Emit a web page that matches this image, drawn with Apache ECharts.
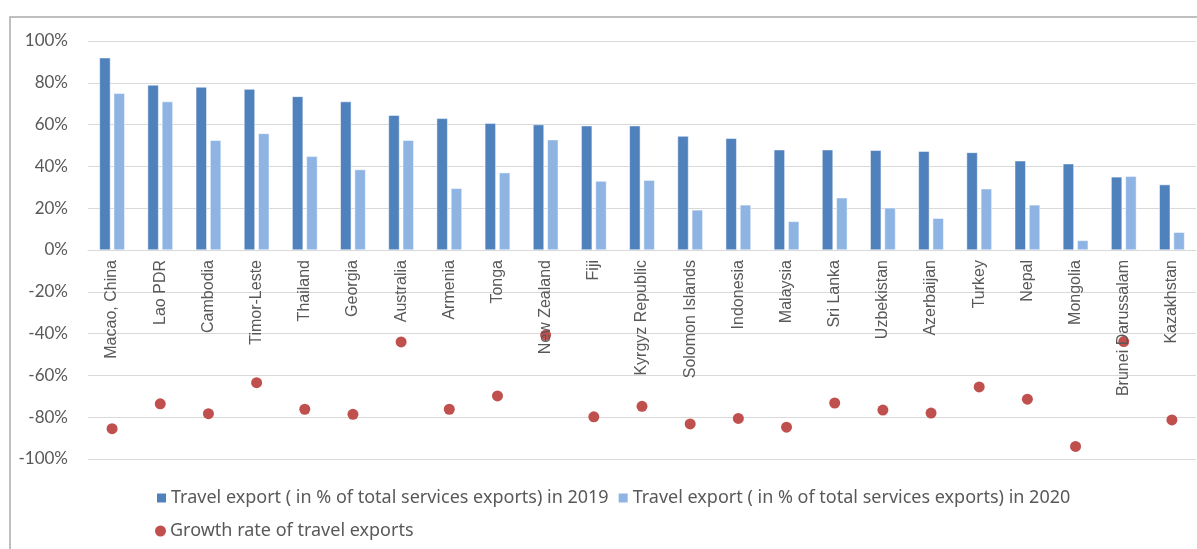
<!DOCTYPE html>
<html>
<head>
<meta charset="utf-8">
<style>
  html, body { margin: 0; padding: 0; background: #ffffff; }
  #chart { width: 1197px; height: 549px; }
</style>
<script src="https://cdn.jsdelivr.net/npm/echarts@6/dist/echarts.min.js"></script>
</head>
<body>
<div id="chart"></div>
<script>
// Economies, ordered by travel share of services exports in 2019
const economies = [
  'Macao, China', 'Lao PDR', 'Cambodia', 'Timor-Leste', 'Thailand', 'Georgia',
  'Australia', 'Armenia', 'Tonga', 'New Zealand', 'Fiji', 'Kyrgyz Republic',
  'Solomon Islands', 'Indonesia', 'Malaysia', 'Sri Lanka', 'Uzbekistan',
  'Azerbaijan', 'Turkey', 'Nepal', 'Mongolia', 'Brunei Darussalam', 'Kazakhstan'
];

// Travel export as % of total services exports
const travelShare2019 = [92, 79, 78, 77, 73.5, 71, 64.5, 63, 60.7, 60, 59.5, 59.5,
                         54.5, 53.5, 48, 48, 47.7, 47.3, 46.7, 42.7, 41.3, 35, 31.3];
const travelShare2020 = [75, 71, 52.5, 55.8, 44.8, 38.5, 52.5, 29.5, 37, 52.8, 33, 33.4,
                         19.2, 21.6, 13.7, 25, 20.2, 15.2, 29.3, 21.6, 4.6, 35.3, 8.5];

// Growth rate of travel exports, %
const travelGrowth = [-85.5, -73.6, -78.3, -63.5, -76.2, -78.6, -44, -76.2, -69.8, -40.7,
                      -79.8, -74.8, -83.2, -80.6, -84.8, -73.2, -76.6, -78, -65.5,
                      -71.4, -94, -43.8, -81.3];

// Value axis ticks
const yMin = -100, yMax = 100, yStep = 20;

const names = {
  s2019: 'Travel export ( in % of total services exports) in 2019',
  s2020: 'Travel export ( in % of total services exports) in 2020',
  growth: 'Growth rate of travel exports'
};

const textColor = '#595959';
const legendFont = '"Noto Sans", "Open Sans", sans-serif';
const tickFont = 'Lato, "Noto Sans", sans-serif';

// Plot box in pixels
const plotTop = 41, plotBottom = 90, plotHeight = 549 - plotTop - plotBottom;
// Category labels hang from the zero line, which sits midway down the plot
const zeroLineLift = plotHeight * (0 - yMin) / (yMax - yMin);

const chart = echarts.init(document.getElementById('chart'), null, { renderer: 'canvas' });

chart.setOption({
  backgroundColor: '#ffffff',
  animation: false,
  graphic: [{
    type: 'rect',
    shape: { x: 10, y: 17, width: 1220, height: 560 },
    style: { fill: 'none', stroke: '#ababab', lineWidth: 1.5 },
    silent: true,
    z: -10
  }],
  grid: {
    left: 88, right: 1, top: plotTop, bottom: plotBottom,
    containLabel: false,
    outerBoundsMode: 'none'
  },
  legend: [{
    data: [names.s2019, names.s2020],
    left: 150,
    top: 484,
    orient: 'horizontal',
    itemWidth: 11,
    itemHeight: 11,
    itemGap: 8,
    icon: 'rect',
    textStyle: { color: textColor, fontSize: 18, fontFamily: legendFont, padding: [0, 0, 0, -1] }
  }, {
    data: [names.growth],
    left: 150,
    top: 517,
    itemWidth: 11,
    itemHeight: 11,
    icon: 'circle',
    textStyle: { color: textColor, fontSize: 18, fontFamily: legendFont, padding: [0, 0, 0, -1] }
  }],
  xAxis: {
    type: 'category',
    data: economies,
    position: 'bottom',
    offset: -zeroLineLift,
    z: 10,
    axisLine: { show: true, onZero: false, lineStyle: { color: '#d9d9d9', width: 1 } },
    axisTick: { show: false },
    axisLabel: {
      interval: 0,
      rotate: 90,
      margin: 10,
      color: textColor,
      fontSize: 16,
      fontFamily: '"Liberation Sans", Arial, sans-serif'
    },
    splitLine: { show: false }
  },
  yAxis: {
    type: 'value',
    min: yMin,
    max: yMax,
    interval: yStep,
    axisLine: { show: false },
    axisTick: { show: false },
    axisLabel: {
      formatter: '{value}%',
      margin: 20,
      color: textColor,
      fontSize: 17,
      fontFamily: tickFont
    },
    splitLine: { show: true, lineStyle: { color: '#d9d9d9', width: 1 } }
  },
  series: [{
    name: names.s2019,
    type: 'bar',
    data: travelShare2019,
    barWidth: 11,
    barGap: '30%',
    itemStyle: { color: '#4f81bd', borderColor: '#ffffff', borderWidth: 0.5 },
    z: 2
  }, {
    name: names.s2020,
    type: 'bar',
    data: travelShare2020,
    barWidth: 11,
    barGap: '30%',
    itemStyle: { color: '#8eb4e3', borderColor: '#ffffff', borderWidth: 0.5 },
    z: 2
  }, {
    name: names.growth,
    type: 'scatter',
    data: travelGrowth,
    symbol: 'circle',
    symbolSize: 11,
    itemStyle: { color: '#c0504d', opacity: 1 },
    z: 3
  }]
});
</script>
</body>
</html>
